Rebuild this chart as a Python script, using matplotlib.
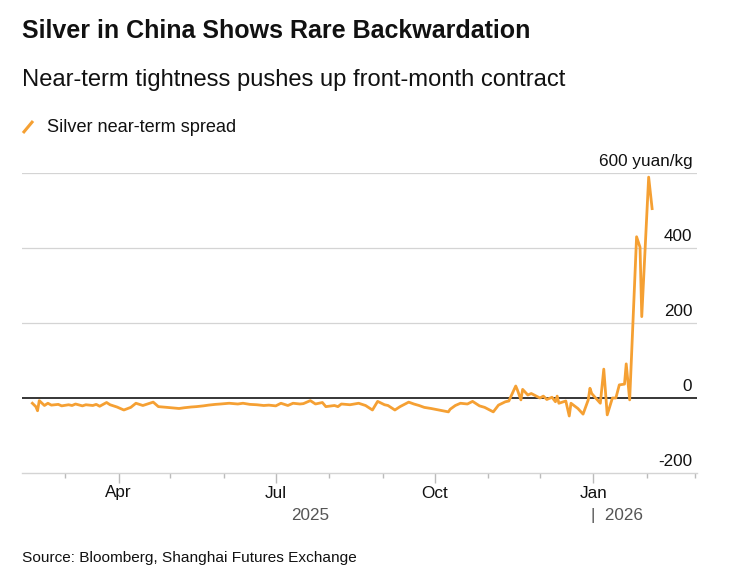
import matplotlib
matplotlib.use("Agg")
import matplotlib.pyplot as plt
import matplotlib.dates as mdates
import pandas as pd
from matplotlib.lines import Line2D

plt.rcParams['font.family'] = ['Liberation Sans', 'DejaVu Sans']

# daily-ish readings of the spread (yuan/kg)
dates = [
    "2025-02-10", "2025-02-12", "2025-02-13", "2025-02-14", "2025-02-17", "2025-02-19",
    "2025-02-21", "2025-02-25", "2025-02-27", "2025-03-03", "2025-03-05", "2025-03-07",
    "2025-03-11", "2025-03-13", "2025-03-17", "2025-03-19", "2025-03-21", "2025-03-25",
    "2025-03-27", "2025-03-31", "2025-04-02", "2025-04-04", "2025-04-08", "2025-04-11",
    "2025-04-15", "2025-04-17", "2025-04-21", "2025-04-24", "2025-04-29", "2025-05-06",
    "2025-05-09", "2025-05-13", "2025-05-16", "2025-05-20", "2025-05-23", "2025-05-27",
    "2025-05-30", "2025-06-04", "2025-06-09", "2025-06-12", "2025-06-16", "2025-06-20",
    "2025-06-24", "2025-06-27", "2025-07-01", "2025-07-04", "2025-07-08", "2025-07-11",
    "2025-07-15", "2025-07-17", "2025-07-21", "2025-07-24", "2025-07-28", "2025-07-30",
    "2025-08-04", "2025-08-06", "2025-08-08", "2025-08-13", "2025-08-18", "2025-08-22",
    "2025-08-26", "2025-08-29", "2025-09-02", "2025-09-04", "2025-09-08", "2025-09-11",
    "2025-09-16", "2025-09-19", "2025-09-22", "2025-09-25", "2025-09-29", "2025-10-09",
    "2025-10-10", "2025-10-13", "2025-10-16", "2025-10-20", "2025-10-23", "2025-10-27",
    "2025-10-30", "2025-11-04", "2025-11-07", "2025-11-11", "2025-11-13", "2025-11-17",
    "2025-11-18", "2025-11-20", "2025-11-21", "2025-11-24", "2025-11-26", "2025-12-01",
    "2025-12-03", "2025-12-05", "2025-12-08", "2025-12-10", "2025-12-11", "2025-12-12",
    "2025-12-16", "2025-12-18", "2025-12-19", "2025-12-23", "2025-12-26", "2025-12-29",
    "2025-12-30", "2025-12-31", "2026-01-05", "2026-01-07", "2026-01-09", "2026-01-12",
    "2026-01-14", "2026-01-16", "2026-01-19", "2026-01-20", "2026-01-22", "2026-01-26",
    "2026-01-28", "2026-01-29", "2026-02-02", "2026-02-04",
]
spread = [
    -14, -23, -34, -7, -20, -14,
    -19, -17, -21, -18, -20, -16,
    -21, -18, -20, -17, -22, -12,
    -18, -24, -28, -32, -25, -14,
    -20, -17, -11, -23, -25, -28,
    -26, -24, -23, -21, -19, -17,
    -16, -14, -16, -14, -17, -18,
    -20, -19, -21, -14, -20, -14,
    -16, -15, -7, -16, -12, -23,
    -20, -23, -16, -18, -14, -20,
    -32, -9, -18, -20, -32, -23,
    -11, -16, -20, -25, -28, -37,
    -30, -20, -14, -16, -9, -21,
    -25, -37, -19, -10, -8, 32,
    21, -5, 23, 8, 12, 0,
    5, -4, 2, -10, 5, -14,
    -8, -48, -14, -28, -43, -5,
    26, 12, -14, 77, -45, 0,
    0, 35, 37, 91, -5, 430,
    402, 217, 589, 505,
]

grid_vals = [200, 400, 600]
ytick_vals = [-200, 0, 200, 400, 600]
ytick_labels = ["-200", "0", "200", "400", "600 yuan/kg"]
month_ticks = ["2025-04-01", "2025-07-01", "2025-10-01", "2026-01-01"]
month_labels = ["Apr", "Jul", "Oct", "Jan"]

orange = "#F5A033"
grey = "#d4d4d4"

fig = plt.figure(figsize=(7.34, 5.79), dpi=100)
ax = fig.add_axes([22 / 734, 1 - 473 / 579, (697 - 22) / 734, 300 / 579])

x = pd.to_datetime(dates)
for v in grid_vals:
    ax.axhline(v, color=grey, lw=0.9, zorder=1)
ax.axhline(0, color="black", lw=1.1, zorder=2)
ax.plot(x, spread, color=orange, lw=2.0, zorder=3)

ax.set_ylim(-200, 600)
ax.set_xlim(pd.Timestamp("2025-02-04"), pd.Timestamp("2026-03-02"))

for s in ["top", "left", "right"]:
    ax.spines[s].set_visible(False)
ax.spines["bottom"].set_color(grey)
ax.spines["bottom"].set_linewidth(1.0)

ax.set_yticks([])
ax.set_xticks(pd.to_datetime(month_ticks))
ax.set_xticklabels(month_labels, fontsize=12.3, color="#111111")
ax.xaxis.set_minor_locator(mdates.MonthLocator())
ax.tick_params(axis="x", which="major", length=7, width=1, color="#bbbbbb", pad=2)
ax.tick_params(axis="x", which="minor", length=3.5, width=1, color="#bbbbbb")

for v, lab in zip(ytick_vals, ytick_labels):
    ax.annotate(lab, xy=(0.993, v), xycoords=("axes fraction", "data"),
                xytext=(0, 3), textcoords="offset points",
                ha="right", va="bottom", fontsize=12.3, color="#111111")

# year labels
ax.annotate("2025", xy=(pd.Timestamp("2025-07-21"), 0), xycoords=("data", "axes fraction"),
            xytext=(0, -30.5), textcoords="offset points", ha="center", va="center",
            fontsize=12.3, color="#555555")
ax.annotate("|  2026", xy=(pd.Timestamp("2026-01-01"), 0), xycoords=("data", "axes fraction"),
            xytext=(-1.5, -30.5), textcoords="offset points", ha="left", va="center",
            fontsize=12.3, color="#555555")

fig.text(22 / 734, 1 - 31 / 579, "Silver in China Shows Rare Backwardation",
         fontsize=18, fontweight="bold", va="center", ha="left", color="#111111")
fig.text(22 / 734, 1 - 80 / 579, "Near-term tightness pushes up front-month contract",
         fontsize=17.1, va="center", ha="left", color="#111111")

# legend
fig.add_artist(Line2D([23 / 734, 33 / 734], [1 - 133 / 579, 1 - 121 / 579],
                      color=orange, lw=2.2, solid_capstyle="butt"))
fig.text(47 / 734, 1 - 127 / 579, "Silver near-term spread",
         fontsize=13.1, va="center", ha="left", color="#111111")

fig.text(22 / 734, 1 - 558 / 579, "Source: Bloomberg, Shanghai Futures Exchange",
         fontsize=11.1, va="center", ha="left", color="#111111")

fig.savefig("out.png", dpi=100)
